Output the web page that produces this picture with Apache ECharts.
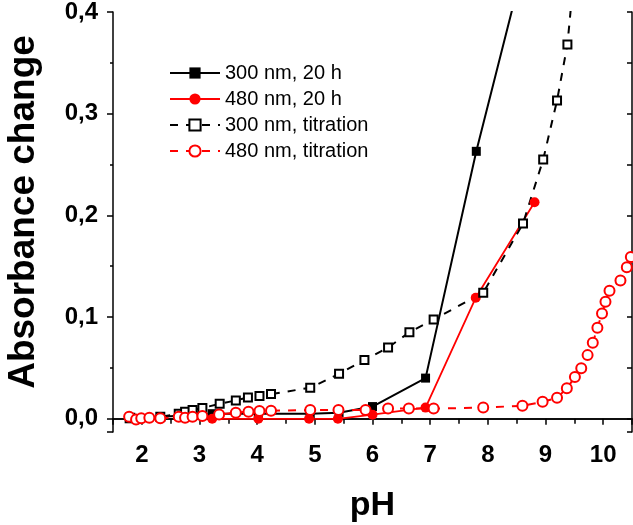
<!DOCTYPE html>
<html>
<head>
<meta charset="utf-8">
<script src="https://cdn.jsdelivr.net/npm/echarts@6/dist/echarts.min.js"></script>
<style>
html,body{margin:0;padding:0;background:#fff;}
#c{width:633px;height:525px;}
</style>
</head>
<body>
<div id="c"></div>
<script>
var seriesNames = ['300 nm, 20 h', '480 nm, 20 h', '300 nm, titration', '480 nm, titration'];

var uv20h = [[1.78, 0.0], [3.22, 0.005], [4.02, 0.005], [4.92, 0.005], [5.42, 0.006], [6.0, 0.012], [6.92, 0.04], [7.8, 0.263], [8.8, 0.487]];
var vis20h = [[3.22, 0.0], [4.02, 0.0], [4.9, 0.0], [5.4, 0.0], [6.0, 0.004], [6.92, 0.011], [7.79, 0.119], [8.81, 0.213]];
var uvTitr = [[1.8, 0.001], [2.32, 0.002], [2.64, 0.005], [2.75, 0.007], [2.88, 0.0086], [3.05, 0.0105], [3.35, 0.0148], [3.63, 0.018], [3.84, 0.021], [4.04, 0.0225], [4.24, 0.0243], [4.92, 0.0305], [5.42, 0.0442], [5.86, 0.0577], [6.27, 0.070], [6.64, 0.085], [7.06, 0.0977], [7.92, 0.124], [8.61, 0.192], [8.96, 0.255], [9.2, 0.313], [9.38, 0.368], [9.55, 0.47]];
var visTitr = [[1.78, 0.002], [1.9, -0.0006], [1.99, 0.0004], [2.13, 0.001], [2.32, 0.0004], [2.64, 0.002], [2.75, 0.001], [2.88, 0.002], [3.05, 0.0027], [3.34, 0.0043], [3.63, 0.006], [3.85, 0.007], [4.04, 0.0076], [4.24, 0.008], [4.92, 0.0086], [5.41, 0.0086], [5.88, 0.0086], [6.27, 0.010], [6.63, 0.010], [7.06, 0.010], [7.92, 0.011], [8.6, 0.0128], [8.95, 0.0167], [9.2, 0.0206], [9.37, 0.030], [9.51, 0.041], [9.62, 0.0496], [9.73, 0.0626], [9.82, 0.0747], [9.9, 0.0895], [9.98, 0.1036], [10.04, 0.115], [10.11, 0.126], [10.3, 0.136], [10.41, 0.149], [10.48, 0.159]];

var FONT = 'Liberation Sans, Arial, sans-serif';
var chart = echarts.init(document.getElementById('c'), null, {renderer: 'canvas'});

function isMult(v, step) {
  var r = v / step;
  return Math.abs(r - Math.round(r)) < 1e-6;
}

var option = {
  animation: false,
  backgroundColor: '#fff',
  grid: {left: 113, right: 1, top: 12, bottom: 93, containLabel: false, outerBoundsMode: 'none'},
  legend: {
    orient: 'vertical',
    left: 164,
    top: 58,
    itemWidth: 50,
    itemHeight: 14,
    itemGap: 6,
    textStyle: {fontFamily: FONT, fontSize: 20, color: '#000', lineHeight: 20},
    data: seriesNames
  },
  xAxis: [{
    type: 'value', position: 'bottom',
    min: 1.5, max: 10.5, splitNumber: 9, minInterval: 1, maxInterval: 1,
    axisLine: {show: true, lineStyle: {color: '#000', width: 1.5}},
    axisTick: {show: true, inside: false, length: 6, lineStyle: {color: '#000', width: 1.5}},
    minorTick: {show: true, splitNumber: 2, length: 3, lineStyle: {color: '#000', width: 1.5}},
    splitLine: {show: false},
    axisLabel: {
      showMinLabel: false, showMaxLabel: false, margin: 11,
      fontFamily: FONT, fontWeight: 'bold', fontSize: 24, color: '#000',
      formatter: function (v) { return isMult(v, 1) ? String(Math.round(v)) : ''; }
    },
    name: 'pH', nameLocation: 'middle', nameGap: 57,
    nameTextStyle: {fontFamily: FONT, fontWeight: 'bold', fontSize: 34, color: '#000'}
  }, {
    type: 'value', position: 'top',
    min: 1.5, max: 10.5, interval: 0.5,
    axisLine: {show: true, lineStyle: {color: '#000', width: 1.5}},
    axisTick: {show: true, inside: true, length: 5, lineStyle: {color: '#000', width: 1.5}},
    axisLabel: {show: false},
    splitLine: {show: false}
  }],
  yAxis: [{
    type: 'value', position: 'left',
    min: -0.013, max: 0.4, splitNumber: 4, minInterval: 0.1, maxInterval: 0.1,
    axisLine: {show: true, lineStyle: {color: '#000', width: 1.5}},
    axisTick: {show: true, inside: false, length: 6, lineStyle: {color: '#000', width: 1.5}},
    minorTick: {show: true, splitNumber: 2, length: 3, lineStyle: {color: '#000', width: 1.5}},
    splitLine: {show: false},
    axisLabel: {
      showMinLabel: false, margin: 15,
      fontFamily: FONT, fontWeight: 'bold', fontSize: 24, color: '#000',
      formatter: function (v) { return (isMult(v, 0.1) && v > -0.001) ? v.toFixed(1).replace('.', ',') : ''; }
    },
    name: 'Absorbance change', nameLocation: 'middle', nameGap: 71,
    nameTextStyle: {fontFamily: FONT, fontWeight: 'bold', fontSize: 37, color: '#000', padding: [0, 0, 0, 20]}
  }, {
    type: 'value', position: 'right',
    min: -0.013, max: 0.4, minInterval: 0.05, maxInterval: 0.05, splitNumber: 8,
    axisLine: {show: true, lineStyle: {color: '#000', width: 1.5}},
    axisTick: {show: true, inside: true, length: 5, lineStyle: {color: '#000', width: 1.5}},
    axisLabel: {show: false},
    splitLine: {show: false}
  }],
  series: [{
    name: seriesNames[0], type: 'line', data: uv20h,
    symbol: 'rect', symbolSize: 9,
    lineStyle: {color: '#000', width: 2},
    itemStyle: {color: '#000'}
  }, {
    name: seriesNames[1], type: 'line', data: vis20h,
    symbol: 'circle', symbolSize: 10,
    lineStyle: {color: '#ff0000', width: 1.8},
    itemStyle: {color: '#ff0000'}
  }, {
    name: seriesNames[2], type: 'line', data: uvTitr,
    symbol: 'emptyRect', symbolSize: 8,
    lineStyle: {color: '#000', width: 2, type: [8, 8]},
    itemStyle: {color: '#000', borderColor: '#000', borderWidth: 1.5}
  }, {
    name: seriesNames[3], type: 'line', data: visTitr,
    symbol: 'emptyCircle', symbolSize: 10,
    lineStyle: {color: '#ff0000', width: 2, type: [8, 8]},
    itemStyle: {color: '#ff0000', borderColor: '#ff0000', borderWidth: 2}
  }]
};
chart.setOption(option);
</script>
</body>
</html>
